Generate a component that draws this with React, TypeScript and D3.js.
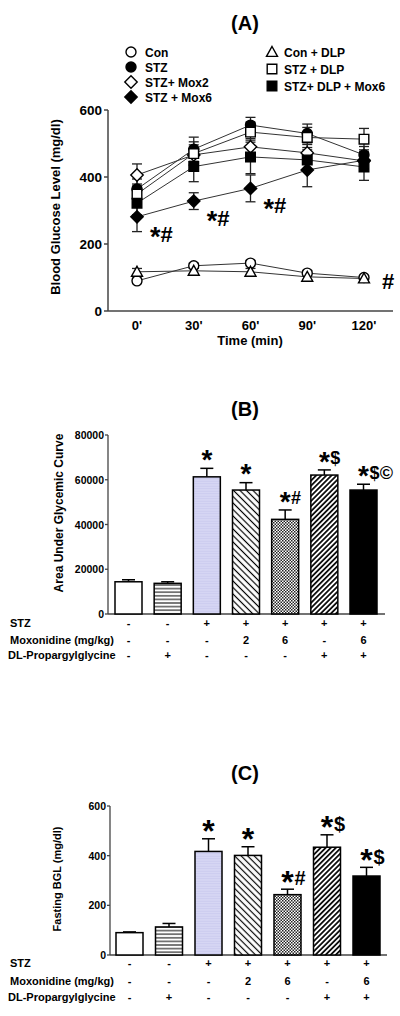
import React from "react";
import * as d3 from "d3";

// ---------- Panel A data ----------
const timeLabels = ["0'", "30'", "60'", "90'", "120'"];
const seriesNames = ["Con", "STZ", "STZ+ Mox2", "STZ + Mox6", "Con + DLP", "STZ + DLP", "STZ+ DLP + Mox6"];
const seriesShapes = ["circle", "circle", "diamond", "diamond", "triangle", "square", "square"];
const seriesFilled = [false, true, false, true, false, false, true];
const glucoseCon = [90, 135, 143, 113, 100];
const glucoseSTZ = [364, 483, 555, 530, 466];
const glucoseMox2 = [406, 466, 490, 472, 448];
const glucoseMox6 = [281, 328, 366, 421, 450];
const glucoseConDLP = [117, 120, 117, 102, 97];
const glucoseSTZDLP = [349, 470, 534, 518, 513];
const glucoseDLPMox6 = [322, 431, 460, 451, 430];
const errCon = [8, 8, 8, 8, 6];
const errSTZ = [30, 36, 23, 28, 25];
const errMox2 = [33, 30, 25, 25, 25];
const errMox6 = [44, 25, 40, 50, 25];
const errConDLP = [10, 8, 10, 8, 6];
const errSTZDLP = [30, 35, 30, 30, 32];
const errDLPMox6 = [35, 45, 50, 30, 40];
const glucoseTicks = [0, 200, 400, 600];
const annotA = [
  { t: "0'", s: 3, label: "*#" },
  { t: "30'", s: 3, label: "*#" },
  { t: "60'", s: 3, label: "*#" },
];
const annotAHash = { t: "120'", s: 0, label: "#" };

// ---------- Panel B / C data ----------
const groups = ["G1", "G2", "G3", "G4", "G5", "G6", "G7"];
const groupFills = ["white", "hlines", "lavender", "diagBack", "checker", "diagFwd", "black"];
const aucValues = [14400, 13700, 61300, 55400, 42300, 62100, 55400];
const aucErrors = [900, 700, 3800, 3300, 4200, 2300, 2600];
const aucTicks = [0, 20000, 40000, 60000, 80000];
const aucAnnot = ["", "", "*", "*", "*#", "*$", "*$©"];
const fbgValues = [90, 113, 417, 401, 243, 434, 318];
const fbgErrors = [3, 14, 51, 35, 22, 50, 35];
const fbgTicks = [0, 200, 400, 600];
const fbgAnnot = ["", "", "*", "*", "*#", "*$", "*$"];
const rowLabels = ["STZ", "Moxonidine (mg/kg)", "DL-Propargylglycine"];
const rowSTZ = ["-", "-", "+", "+", "+", "+", "+"];
const rowMox = ["-", "-", "-", "2", "6", "-", "6"];
const rowDLP = ["-", "+", "-", "-", "-", "+", "+"];

const FONT = "Arial, 'Liberation Sans', sans-serif";
const AX = "#444";

function shapePath(shape: string, cx: number, cy: number) {
  if (shape === "circle") {
    const r = 5;
    return `M${cx - r},${cy}A${r},${r} 0 1,0 ${cx + r},${cy}A${r},${r} 0 1,0 ${cx - r},${cy}Z`;
  }
  if (shape === "diamond") {
    const r = 6.2;
    return `M${cx},${cy - r}L${cx + r},${cy}L${cx},${cy + r}L${cx - r},${cy}Z`;
  }
  if (shape === "square") {
    const r = 4.8;
    return `M${cx - r},${cy - r}H${cx + r}V${cy + r}H${cx - r}Z`;
  }
  const r = 5.5;
  return `M${cx},${cy - r}L${cx + r},${cy + r * 0.8}L${cx - r},${cy + r * 0.8}Z`;
}

function Marker({ shape, filled, x, y }: any) {
  return (
    <path d={shapePath(shape, x, y)} fill={filled ? "black" : "white"} stroke="black" strokeWidth={1.4} />
  );
}

// annotation with a large asterisk and other symbols vertically centred on cy
function Annot({ x, cy, label, star, other, anchor = "middle" }: any) {
  const chars = Array.from(label as string);
  return (
    <text x={x} textAnchor={anchor} fontFamily={FONT} fontWeight="bold" fill="black">
      {chars.map((c: string, i: number) => {
        const isStar = c === "*";
        const s = isStar ? star : other;
        const y = isStar ? cy + 0.45 * s : cy + 0.36 * s;
        return (
          <tspan key={i} y={y} fontSize={s} dx={c === "©" ? 2 : 0}>
            {c}
          </tspan>
        );
      })}
    </text>
  );
}

function Patterns() {
  return (
    <defs>
      <pattern id="hlines" patternUnits="userSpaceOnUse" width={6} height={3.6}>
        <rect width={6} height={3.6} fill="white" />
        <line x1={0} x2={6} y1={1.8} y2={1.8} stroke="black" strokeWidth={1} />
      </pattern>
      <pattern id="lavender" patternUnits="userSpaceOnUse" width={4} height={2.5}>
        <rect width={4} height={2.5} fill="#d6d6f4" />
        <line x1={0} x2={4} y1={1.2} y2={1.2} stroke="#c6c6ec" strokeWidth={0.8} />
      </pattern>
      <pattern id="diagBack" patternUnits="userSpaceOnUse" width={4.6} height={10} patternTransform="rotate(-45)">
        <rect width={4.6} height={10} fill="white" />
        <line x1={2.3} x2={2.3} y1={0} y2={10} stroke="black" strokeWidth={1.2} />
      </pattern>
      <pattern id="diagFwd" patternUnits="userSpaceOnUse" width={3.6} height={10} patternTransform="rotate(45)">
        <rect width={3.6} height={10} fill="white" />
        <line x1={1.8} x2={1.8} y1={0} y2={10} stroke="black" strokeWidth={1.7} />
      </pattern>
      <pattern id="checker" patternUnits="userSpaceOnUse" width={3} height={3}>
        <rect width={3} height={3} fill="white" />
        <rect width={1.5} height={1.5} fill="#222" />
        <rect x={1.5} y={1.5} width={1.5} height={1.5} fill="#222" />
      </pattern>
    </defs>
  );
}

function fillFor(key: string) {
  if (key === "white") return "white";
  if (key === "black") return "black";
  return `url(#${key})`;
}

function PanelA() {
  const x = d3.scalePoint<string>().domain(timeLabels).range([137, 364]);
  const y = d3.scaleLinear().domain([0, 600]).range([311, 110]);
  const values = [glucoseCon, glucoseSTZ, glucoseMox2, glucoseMox6, glucoseConDLP, glucoseSTZDLP, glucoseDLPMox6];
  const errors = [errCon, errSTZ, errMox2, errMox6, errConDLP, errSTZDLP, errDLPMox6];
  const line = d3
    .line<number>()
    .x((_, i) => x(timeLabels[i]) as number)
    .y((d) => y(d));
  const leftLegend = [0, 1, 2, 3];
  const leftRows = [52, 67, 82, 97];
  const rightLegend = [4, 5, 6];
  const rightRows = [52, 69, 86];
  return (
    <g>
      <text x={245} y={30} textAnchor="middle" fontFamily={FONT} fontWeight="bold" fontSize={20}>
        (A)
      </text>
      {leftLegend.map((s, i) => (
        <g key={s}>
          <Marker shape={seriesShapes[s]} filled={seriesFilled[s]} x={131} y={leftRows[i]} />
          <text x={145} y={leftRows[i] + 4.5} fontFamily={FONT} fontWeight="bold" fontSize={12}>
            {seriesNames[s]}
          </text>
        </g>
      ))}
      {rightLegend.map((s, i) => (
        <g key={s}>
          <Marker shape={seriesShapes[s]} filled={seriesFilled[s]} x={272} y={rightRows[i]} />
          <text x={284} y={rightRows[i] + 4.5} fontFamily={FONT} fontWeight="bold" fontSize={12}>
            {seriesNames[s]}
          </text>
        </g>
      ))}
      {/* axes */}
      <line x1={108} x2={108} y1={y(0)} y2={y(600)} stroke={AX} strokeWidth={1.5} />
      <line x1={108} x2={393} y1={y(0)} y2={y(0)} stroke={AX} strokeWidth={1.5} />
      {glucoseTicks.map((t) => (
        <g key={t}>
          <line x1={104} x2={108} y1={y(t)} y2={y(t)} stroke={AX} strokeWidth={1.5} />
          <text x={102} y={y(t) + 5} textAnchor="end" fontFamily={FONT} fontWeight="bold" fontSize={13.5}>
            {t}
          </text>
        </g>
      ))}
      {timeLabels.map((t) => (
        <text key={t} x={x(t)} y={330} textAnchor="middle" fontFamily={FONT} fontWeight="bold" fontSize={13}>
          {t}
        </text>
      ))}
      <text x={250} y={345} textAnchor="middle" fontFamily={FONT} fontWeight="bold" fontSize={13}>
        Time (min)
      </text>
      <text
        transform={`translate(60,207) rotate(-90)`}
        textAnchor="middle"
        fontFamily={FONT}
        fontWeight="bold"
        fontSize={13}
      >
        Blood Glucose Level (mg/dl)
      </text>
      {/* error bars */}
      {values.map((vals, s) =>
        vals.map((v, i) => {
          const cx = x(timeLabels[i]) as number;
          const e = errors[s][i];
          return (
            <g key={`e${s}-${i}`} stroke="#222" strokeWidth={1.3}>
              <line x1={cx} x2={cx} y1={y(v - e)} y2={y(v + e)} />
              <line x1={cx - 5} x2={cx + 5} y1={y(v - e)} y2={y(v - e)} />
              <line x1={cx - 5} x2={cx + 5} y1={y(v + e)} y2={y(v + e)} />
            </g>
          );
        })
      )}
      {values.map((vals, s) => (
        <path key={`l${s}`} d={line(vals) as string} fill="none" stroke="#333" strokeWidth={1} />
      ))}
      {values.map((vals, s) =>
        vals.map((v, i) => (
          <Marker
            key={`m${s}-${i}`}
            shape={seriesShapes[s]}
            filled={seriesFilled[s]}
            x={x(timeLabels[i]) as number}
            y={y(v)}
          />
        ))
      )}
      {annotA.map((a, i) => {
        const idx = timeLabels.indexOf(a.t);
        return (
          <Annot
            key={i}
            x={(x(a.t) as number) + 13}
            cy={y(values[a.s][idx]) + 17}
            label={a.label}
            star={27}
            other={22}
            anchor="start"
          />
        );
      })}
      <Annot
        x={(x(annotAHash.t) as number) + 18}
        cy={y(values[annotAHash.s][timeLabels.indexOf(annotAHash.t)]) + 4}
        label={annotAHash.label}
        star={27}
        other={22}
        anchor="start"
      />
    </g>
  );
}

function BarPanel({
  title,
  titleY,
  yLabel,
  yLabelX,
  yLabelY,
  yLabelSize,
  values,
  errors,
  ticks,
  annots,
  axisX,
  yTop,
  yBottom,
  xRange,
  axisEnd,
  tickSize,
  rowYs,
  star,
  other,
  annotGap,
}: any) {
  const x = d3.scalePoint<string>().domain(groups).range(xRange);
  const y = d3
    .scaleLinear()
    .domain([0, ticks[ticks.length - 1]])
    .range([yBottom, yTop]);
  const bw = 27;
  const rows = [rowSTZ, rowMox, rowDLP];
  return (
    <g>
      <text x={245} y={titleY} textAnchor="middle" fontFamily={FONT} fontWeight="bold" fontSize={20}>
        {title}
      </text>
      <text
        transform={`translate(${yLabelX},${yLabelY}) rotate(-90)`}
        textAnchor="middle"
        fontFamily={FONT}
        fontWeight="bold"
        fontSize={yLabelSize}
      >
        {yLabel}
      </text>
      <line x1={axisX} x2={axisX} y1={y(0)} y2={y(ticks[ticks.length - 1])} stroke={AX} strokeWidth={1.3} />
      <line x1={axisX} x2={axisEnd} y1={y(0)} y2={y(0)} stroke={AX} strokeWidth={1.3} />
      {ticks.map((t: number) => (
        <g key={t}>
          <line x1={axisX - 3} x2={axisX} y1={y(t)} y2={y(t)} stroke={AX} strokeWidth={1.3} />
          <text x={axisX - 4} y={y(t) + 4} textAnchor="end" fontFamily={FONT} fontWeight="bold" fontSize={tickSize}>
            {t}
          </text>
        </g>
      ))}
      {groups.map((g, i) => {
        const cx = x(g) as number;
        const top = y(values[i]);
        const et = y(values[i] + errors[i]);
        return (
          <g key={g}>
            <line x1={cx} x2={cx} y1={top} y2={et} stroke="black" strokeWidth={1.5} />
            <line x1={cx - 6.5} x2={cx + 6.5} y1={et} y2={et} stroke="black" strokeWidth={1.5} />
            <rect
              x={cx - bw / 2}
              y={top}
              width={bw}
              height={y(0) - top}
              fill={fillFor(groupFills[i])}
              stroke="black"
              strokeWidth={1.5}
            />
            {annots[i] && <Annot x={cx} cy={et - annotGap} label={annots[i]} star={star} other={other} />}
          </g>
        );
      })}
      {rowLabels.map((l, r) => (
        <g key={l}>
          <text x={r === 2 ? 8 : 10} y={rowYs[r]} fontFamily={FONT} fontWeight="bold" fontSize={11}>
            {l}
          </text>
          {groups.map((g, i) => (
            <text
              key={g}
              x={x(g) as number}
              y={rowYs[r]}
              textAnchor="middle"
              fontFamily={FONT}
              fontWeight="bold"
              fontSize={11}
            >
              {rows[r][i]}
            </text>
          ))}
        </g>
      ))}
    </g>
  );
}

export default function App() {
  return (
    <svg
      width={400}
      height={1016}
      style={{ position: "absolute", left: 0, top: 0, background: "white" }}
      xmlns="http://www.w3.org/2000/svg"
    >
      <Patterns />
      <rect width={400} height={1016} fill="white" />
      <PanelA />
      <BarPanel
        title="(B)"
        titleY={416}
        yLabel="Area Under Glycemic Curve"
        yLabelX={63}
        yLabelY={513}
        yLabelSize={12}
        values={aucValues}
        errors={aucErrors}
        ticks={aucTicks}
        annots={aucAnnot}
        axisX={108}
        yTop={435}
        yBottom={614}
        xRange={[128.5, 363.5]}
        axisEnd={385}
        tickSize={10.5}
        rowYs={[627, 644, 659]}
        star={28}
        other={18}
        annotGap={12}
      />
      <BarPanel
        title="(C)"
        titleY={780}
        yLabel="Fasting BGL (mg/dl)"
        yLabelX={61}
        yLabelY={879}
        yLabelSize={11}
        values={fbgValues}
        errors={fbgErrors}
        ticks={fbgTicks}
        annots={fbgAnnot}
        axisX={110}
        yTop={806}
        yBottom={955}
        xRange={[129.5, 366.5]}
        axisEnd={387}
        tickSize={10.5}
        rowYs={[967, 985, 1001]}
        star={32}
        other={20}
        annotGap={11}
      />
    </svg>
  );
}
